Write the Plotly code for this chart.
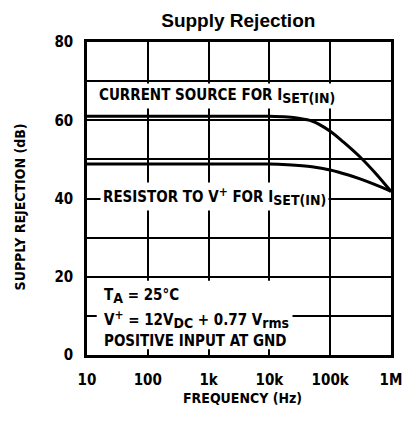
import plotly.graph_objects as go

# ---- data ----
freq_cs = [10, 100, 1000, 10000, 20000, 30000, 50000, 100000, 166000, 310000, 575000, 1000000]
db_cs = [61.0, 61.0, 61.0, 61.0, 60.8, 60.5, 59.8, 57.2, 54.4, 50.6, 46.2, 41.8]

freq_res = [10, 100, 1000, 10000, 20000, 50000, 100000, 200000, 310000, 575000, 1000000]
db_res = [48.8, 48.8, 48.8, 48.8, 48.6, 48.1, 47.3, 46.0, 45.0, 43.4, 41.8]

x_tickvals = [10, 100, 1000, 10000, 100000, 1000000]
x_ticktext = ["10", "100", "1k", "10k", "100k", "1M"]
y_tickvals = [0, 20, 40, 60, 80]
y_ticktext = ["0", "20", "40", "60", "80"]

SUB = '<sub><span style="font-size:14px">{}</span></sub>'
SUP = '<sup><span style="font-size:12px">{}</span></sup>'

TITLE = "Supply Rejection"
X_TITLE = "FREQUENCY (Hz)"
Y_TITLE = "SUPPLY REJECTION (dB)"
LABEL_CS = "CURRENT SOURCE FOR I" + SUB.format("SET(IN)")
LABEL_RES = "RESISTOR TO V" + SUP.format("+") + " FOR I" + SUB.format("SET(IN)")
COND_1 = "T" + SUB.format("A") + " = 25°C"
COND_2 = "V" + SUP.format("+") + " = 12V" + SUB.format("DC") + " + 0.77 V" + SUB.format("rms")
COND_3 = "POSITIVE INPUT AT GND"

NARROW = "DejaVu Sans Condensed, Liberation Sans Narrow, Arial Narrow, sans-serif"

fig = go.Figure()
for fx, fy in [(freq_cs, db_cs), (freq_res, db_res)]:
    fig.add_trace(go.Scatter(x=fx, y=fy, mode="lines",
                             line=dict(color="black", width=3, shape="spline", smoothing=0.8),
                             showlegend=False, hoverinfo="skip"))

fig.update_layout(
    width=413, height=426,
    margin=dict(l=87, r=11, t=42, b=71),
    paper_bgcolor="white", plot_bgcolor="white",
    title=dict(text=TITLE, x=0.577, xanchor="center", y=0.953, yanchor="middle",
               font=dict(family="Liberation Sans, Arial, sans-serif", size=19, color="black", weight="bold")),
    xaxis=dict(type="log", range=[1, 6], tickvals=x_tickvals, ticktext=x_ticktext,
               showgrid=True, gridcolor="black", gridwidth=1.5,
               showline=True, linecolor="black", linewidth=2.5, mirror=True,
               ticks="", ticklabelstandoff=9, zeroline=False,
               tickfont=dict(family=NARROW, size=15, color="black", weight="bold")),
    yaxis=dict(range=[0, 80], tickvals=y_tickvals, ticktext=y_ticktext,
               showgrid=True, gridcolor="black", gridwidth=1.5,
               minor=dict(tick0=0, dtick=10, showgrid=True, gridcolor="black", gridwidth=1.5, ticks=""),
               showline=True, linecolor="black", linewidth=2.5, mirror=True,
               ticks="", ticklabelstandoff=8, zeroline=False,
               tickfont=dict(family=NARROW, size=15, color="black", weight="bold")),
)

# white block behind the condition text
fig.add_shape(type="rect", xref="paper", yref="y", x0=0.032, x1=0.676, y0=1.5, y1=19.0,
              fillcolor="white", line=dict(width=0), layer="above")

lab_font = dict(family=NARROW, size=15, color="black", weight="bold")
fig.add_annotation(x=1.15, y=66.2, xref="x", yref="y", text=LABEL_CS, showarrow=False,
                   xanchor="left", yanchor="middle", bgcolor="white", borderpad=2, font=lab_font)
fig.add_annotation(x=1.21, y=40.6, xref="x", yref="y", text=LABEL_RES, showarrow=False,
                   xanchor="left", yanchor="middle", bgcolor="white", borderpad=2, font=lab_font)
for txt, yy in [(COND_1, 15.0), (COND_2, 9.2), (COND_3, 3.6)]:
    fig.add_annotation(x=1.24, y=yy, xref="x", yref="y", text=txt, showarrow=False,
                       xanchor="left", yanchor="middle", font=lab_font)

fig.add_annotation(x=0.51, y=-(398 - 355) / 313, xref="paper", yref="paper", text=X_TITLE,
                   showarrow=False, xanchor="center", yanchor="middle",
                   font=dict(family=NARROW, size=14, color="black", weight="bold"))
fig.add_annotation(x=-(87 - 18) / 315, y=(355 - 207) / 313, xref="paper", yref="paper",
                   text=Y_TITLE, showarrow=False, textangle=-90,
                   xanchor="center", yanchor="middle",
                   font=dict(family=NARROW, size=14, color="black", weight="bold"))

fig.write_html("out.html", config={"displayModeBar": False},
               post_script="document.body.style.margin='0';")
